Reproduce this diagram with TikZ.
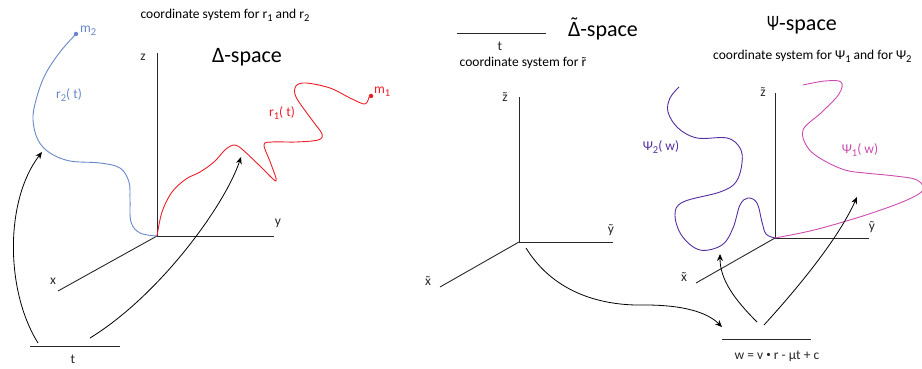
\documentclass[tikz,border=0pt]{standalone}
\usepackage{fontspec}
\setmainfont{Carlito}
\usetikzlibrary{arrows.meta}
\definecolor{axisgray}{RGB}{40,40,40}
\definecolor{bluec}{RGB}{105,135,200}
\definecolor{redc}{RGB}{235,30,40}
\definecolor{purplec}{RGB}{85,45,160}
\definecolor{magentac}{RGB}{205,75,175}
\newcommand{\lo}[1]{\raisebox{-0.45ex}{\fontsize{10.5}{10.5}\selectfont #1}}
\newcommand{\tld}[1]{\accent"02DC #1}
\begin{document}
\begin{tikzpicture}[x=1pt,y=-1pt,
  axis/.style={draw=axisgray, line width=0.9pt},
  baseline/.style={draw=axisgray, line width=0.9pt},
  lbl/.style={font=\fontsize{13.5}{15}\selectfont, inner sep=0pt, text=axisgray},
  small/.style={font=\fontsize{13.5}{15}\selectfont, inner sep=0pt, text=black},
  big/.style={font=\fontsize{22}{25}\selectfont, inner sep=0pt, text=black},
  clbl/.style={font=\fontsize{13.5}{15}\selectfont, inner sep=0pt},
  arr/.style={draw=black, line width=0.8pt, -{Stealth[length=7pt,width=6pt]}},
  curve/.style={line width=0.9pt},
  dot/.style={circle, inner sep=0pt, minimum size=4.5pt}]
\useasboundingbox (0,0) rectangle (922,369);

% ---------------- left: Delta-space ----------------
\node[small] (cs1) at (225,15) {coordinate system for r\lo{1} and r\lo{2}};
\node[big] (dsp) at (247,57) {Δ-space};
\coordinate (O1) at (157,236);
\coordinate (Z1) at (157,53);
\coordinate (Y1) at (274,236);
\coordinate (X1) at (58,291);
\draw[axis] (O1) -- (Z1);
\draw[axis] (O1) -- (Y1);
\draw[axis] (O1) -- (X1);
\node[lbl] (zl1) at (143,57) {z};
\node[lbl] (yl1) at (278,223) {y};
\node[lbl] (xl1) at (53,281) {x};

% blue r2
\draw[bluec, curve] plot[smooth, tension=0.6] coordinates {(157,236) (140,233) (131,222) (130,200) (129,182) (120,168) (100,163) (70,161) (50,153) (38,140) (33,120) (36,100) (45,75) (60,52) (76,34)};
\node[dot, fill=bluec] (m2) at (76,34) {};
\node[clbl, anchor=west, text=bluec] (m2l) at (80,31) {m\lo{2}};
\node[clbl, text=bluec] (r2l) at (69,95) {r\lo{2}( t)};

% red r1
\draw[redc, curve] plot[smooth, tension=0.55] coordinates {(157,236) (162,212) (172,192) (186,179) (200,172) (214,162) (226,149) (235,145) (243,150) (260,166) (276,181) (271,164) (264,145) (272,142) (296,142) (318,140) (322,134) (312,120) (296,97) (296,86) (306,83) (330,88) (352,99) (365,104) (369,97)};
\node[dot, fill=redc] (m1) at (371,96) {};
\node[clbl, anchor=west, text=redc] (m1l) at (374,92) {m\lo{1}};
\node[clbl, text=redc] (r1l) at (282,113) {r\lo{1}( t)};

% t line and arrows
\coordinate (tA) at (30,346);
\coordinate (tB) at (120,346);
\draw[baseline] (tA) -- (tB);
\node[lbl] (tl1) at (73,359) {t};
\coordinate (a1s) at (38,343);
\coordinate (a1e) at (42,152);
\coordinate (a2s) at (90,338);
\coordinate (a2e) at (241,157);
\draw[arr] (a1s) .. controls (5,290) and (5,200) .. (a1e);
\draw[arr] (a2s) .. controls (160,295) and (225,205) .. (a2e);

% ---------------- middle: Delta-tilde space ----------------
\coordinate (tmA) at (457,33);
\coordinate (tmB) at (546,33);
\draw[baseline] (tmA) -- (tmB);
\node[lbl] (tl2) at (500,46) {t};
\node[small] (cs2) at (523,63) {coordinate system for \tld{r}};
\node[big] (dtsp) at (603,29) {\tld{Δ}-space};
\coordinate (O2) at (519,242);
\coordinate (Z2) at (519,97);
\coordinate (Y2) at (613,242);
\coordinate (X2) at (440,287);
\draw[axis] (O2) -- (Z2);
\draw[axis] (O2) -- (Y2);
\draw[axis] (O2) -- (X2);
\node[lbl] (zl2) at (505,97) {\tld{z}};
\node[lbl] (yl2) at (611,230) {\tld{y}};
\node[lbl] (xl2) at (428,281) {\tld{x}};
\coordinate (a3s) at (526,248);
\coordinate (a3m) at (645,305);
\coordinate (a3e) at (722,327);
\draw[arr] (a3s) .. controls (555,295) and (605,306) .. (a3m) .. controls (690,305) and (710,315) .. (a3e);

% ---------------- right: Psi-space ----------------
\node[big] (psp) at (802,25) {\scalebox{0.72}[1]{Ψ}-space};
\node[small, anchor=west] (cs3) at (713,56) {coordinate system for Ψ\lo{1} and for Ψ\lo{2}};
\coordinate (O3) at (775,238);
\coordinate (Z3) at (775,93);
\coordinate (Y3) at (869,238);
\coordinate (X3) at (696,283);
\draw[axis] (O3) -- (Z3);
\draw[axis] (O3) -- (Y3);
\draw[axis] (O3) -- (X3);
\node[lbl] (zl3) at (763,92) {\tld{z}};
\node[lbl] (yl3) at (872,227) {\tld{y}};
\node[lbl] (xl3) at (684,277) {\tld{x}};

% purple psi2
\draw[purplec, curve] plot[smooth, tension=0.6] coordinates {(679,87) (670,98) (668,112) (678,128) (697,138) (727,138) (740,148) (742,163) (736,182) (720,192) (683,202) (675,215) (682,236) (700,250) (722,245) (733,228) (740,205) (748,198) (757,203) (762,222) (766,234) (775,238)};
\node[clbl, text=purplec] (p2l) at (661,147) {Ψ\lo{2}( w)};

% magenta psi1
\draw[magentac, curve] plot[smooth, tension=0.6] coordinates {(803,85) (825,81) (841,82) (839,94) (822,112) (803,130) (808,148) (823,160) (845,170) (865,173) (895,176) (917,180) (923,190) (907,200) (875,212) (843,222) (810,231) (775,238)};
\node[clbl, text=magentac] (p1l) at (860,150) {Ψ\lo{1}( w)};

% w line, formula, arrows
\coordinate (wA) at (722,339);
\coordinate (wB) at (811,339);
\draw[baseline] (wA) -- (wB);
\node[small, text=axisgray] (wl) at (777,356) {w = v \raisebox{0.12em}{\fontsize{9}{9}\selectfont •} r - μt + c};
\coordinate (a4s) at (757,322);
\coordinate (a4e) at (720,254);
\coordinate (a5s) at (764,325);
\coordinate (a5e) at (857,197);
\draw[arr] (a4s) .. controls (735,300) and (720,280) .. (a4e);
\draw[arr] (a5s) .. controls (805,280) and (840,235) .. (a5e);
\end{tikzpicture}
\end{document}
